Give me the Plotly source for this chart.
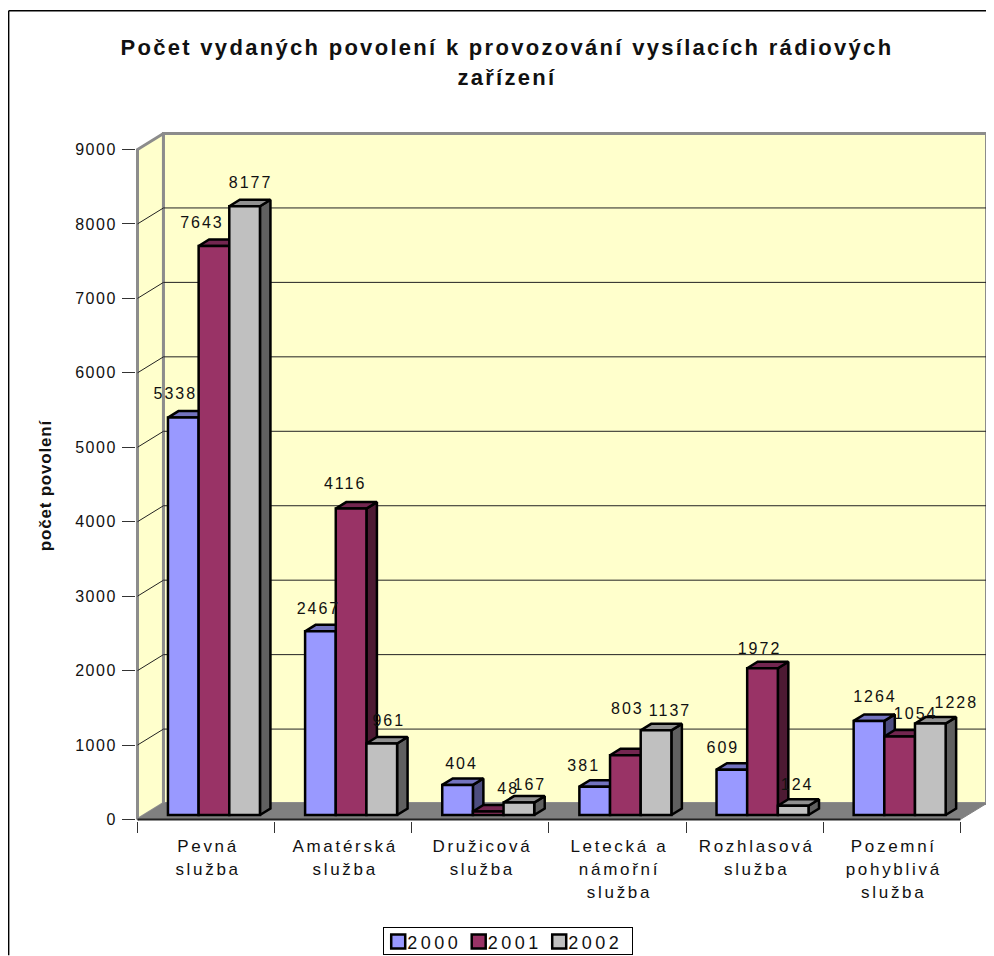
import plotly.graph_objects as go

# data
categories = [
    "Pevná<br>služba",
    "Amatérská<br>služba",
    "Družicová<br>služba",
    "Letecká a<br>námořní<br>služba",
    "Rozhlasová<br>služba",
    "Pozemní<br>pohyblivá<br>služba",
]
years = ["2000", "2001", "2002"]
values_2000 = [5338, 2467, 404, 381, 609, 1264]
values_2001 = [7643, 4116, 48, 803, 1972, 1054]
values_2002 = [8177, 961, 167, 1137, 124, 1228]
y_ticks = [0, 1000, 2000, 3000, 4000, 5000, 6000, 7000, 8000, 9000]

# hand placement of the value labels, pixels from the bar top
label_dx = [
    [-8, -2, 4, -11, -9, 6],
    [-12, -6, 20, 2, -3, 16],
    [6, 7, 11, 14, 4, 26],
]
label_dy = [
    [-23, -21, -20, -20, -21, -23],
    [-22, -24, -21, -45, -18, -22],
    [-22, -22, -17, -18, -20, -20],
]

front_colors = ["#9999FF", "#993366", "#C0C0C0"]
top_colors = ["#7373BF", "#732650", "#909090"]
side_colors = ["#4D4D80", "#4D1A33", "#606060"]
WALL = "#FFFFCC"
WALL_EDGE = "#8C8C8C"
FLOOR = "#808080"

# scales of the plot area, PAD keeps the wall borders from being clipped
PX_PER_CAT = 137.3
PX_PER_UNIT = 671 / 9000
PAD = 1.5
PLOT_W = 850 + 2 * PAD
PLOT_H = 687 + 2 * PAD
FIG_W = 986
FIG_H = 948
M_L = 129 - PAD
M_T = 125 - PAD

WALL_DX = 26 / PX_PER_CAT
WALL_DY = 16 / PX_PER_UNIT
BAR_W = 30.7 / PX_PER_CAT
BAR_SHIFT = 7.9 / PX_PER_CAT
BAR_BASE = 4.5 / PX_PER_UNIT
BAR_DX = 10.5 / PX_PER_CAT
BAR_DY = 6.5 / PX_PER_UNIT

X0 = -0.5
X1 = X0 + 850 / PX_PER_CAT
XF = 5.5
Y1 = 9000 + WALL_DY
x_range = [X0 - PAD / PX_PER_CAT, X1 + PAD / PX_PER_CAT]
y_range = [-PAD / PX_PER_UNIT, Y1 + PAD / PX_PER_UNIT]
series = [values_2000, values_2001, values_2002]
centers = list(range(len(categories)))


def paper_x(px):
    return (px - 8 - M_L) / PLOT_W


def paper_y(py):
    return 1 - (py - 8 - M_T) / PLOT_H


def poly(xs, ys, fill, line="black", width=2.5):
    # the line of a filled scatter does not close by itself
    return go.Scatter(
        x=xs + xs[:1], y=ys + ys[:1], mode="lines", fill="toself", fillcolor=fill,
        line=dict(color=line, width=width), hoverinfo="skip",
        showlegend=False, cliponaxis=False,
    )


fig = go.Figure()

# walls and floor
fig.add_trace(poly([X0, X0 + WALL_DX, X0 + WALL_DX, X0], [0, WALL_DY, Y1, 9000], WALL, WALL_EDGE, 3))
fig.add_trace(poly([X0 + WALL_DX, X1, X1, X0 + WALL_DX], [WALL_DY, WALL_DY, Y1, Y1], WALL, WALL_EDGE, 3))
fig.add_trace(poly([X0, X0 + WALL_DX, X1, XF], [0, WALL_DY, WALL_DY, 0], FLOOR, FLOOR, 1))

# gridlines follow the left wall, then the back wall
for v in y_ticks[1:-1]:
    fig.add_trace(go.Scatter(
        x=[X0, X0 + WALL_DX], y=[v, v + WALL_DY], mode="lines",
        line=dict(color="#222222", width=1), hoverinfo="skip", showlegend=False,
    ))
    fig.add_trace(go.Scatter(
        x=[X0 + WALL_DX, X1], y=[v + WALL_DY, v + WALL_DY], mode="lines",
        line=dict(color="#222222", width=1), hoverinfo="skip", showlegend=False,
    ))

# front edge of the floor
fig.add_trace(go.Scatter(
    x=[X0, XF], y=[0, 0], mode="lines", line=dict(color="#222222", width=2),
    hoverinfo="skip", showlegend=False, cliponaxis=False,
))


def bar_left(i, c):
    return c + BAR_SHIFT + (i - 1.5) * BAR_W


# side and top faces, back to front
for c in centers:
    for i, vals in enumerate(series):
        left = bar_left(i, c)
        right = left + BAR_W
        top = BAR_BASE + vals[c]
        fig.add_trace(poly(
            [right, right + BAR_DX, right + BAR_DX, right],
            [BAR_BASE, BAR_BASE + BAR_DY, top + BAR_DY, top],
            side_colors[i],
        ))
        fig.add_trace(poly(
            [left, right, right + BAR_DX, left + BAR_DX],
            [top, top, top + BAR_DY, top + BAR_DY],
            top_colors[i],
        ))

# front faces on an overlaying pair of axes so they cover the faces above
for i, vals in enumerate(series):
    fig.add_trace(go.Bar(
        x=[c + BAR_SHIFT for c in centers], y=vals, base=BAR_BASE, name=years[i],
        marker=dict(color=front_colors[i], line=dict(color="black", width=2.5)),
        xaxis="x2", yaxis="y2",
    ))

# value labels go on top of everything
lab_x, lab_y, lab_t = [], [], []
for i, vals in enumerate(series):
    for c, v in zip(centers, vals):
        lab_x.append(bar_left(i, c) + BAR_W / 2 + label_dx[i][c] / PX_PER_CAT)
        lab_y.append(BAR_BASE + v - label_dy[i][c] / PX_PER_UNIT)
        lab_t.append(str(v))
fig.add_trace(go.Scatter(
    x=lab_x, y=lab_y, text=lab_t, mode="text", textposition="middle center",
    textfont=dict(family="Liberation Sans", size=16, color="#111111"),
    hoverinfo="skip", showlegend=False, cliponaxis=False, xaxis="x2", yaxis="y2",
))

tick_font = dict(family="Liberation Sans", size=16, color="#111111")

fig.update_layout(
    width=FIG_W,
    height=FIG_H,
    margin=dict(l=M_L, r=FIG_W - M_L - PLOT_W, t=M_T, b=FIG_H - M_T - PLOT_H, autoexpand=False),
    paper_bgcolor="white",
    plot_bgcolor="white",
    barmode="group",
    bargap=1 - 3 * BAR_W,
    bargroupgap=0,
    title=dict(
        text="Počet vydaných povolení k provozování vysílacích rádiových<br>zařízení",
        font=dict(family="Liberation Sans", size=22, color="#111111", weight="bold"),
        x=503 / 994, xanchor="center", y=1 - 46.5 / FIG_H, yanchor="top",
    ),
    xaxis=dict(
        range=x_range, tickvals=[c - 0.5 for c in centers] + [XF], ticktext=[""] * 7,
        ticks="outside", ticklen=11, tickcolor="#333333", showgrid=False,
        zeroline=False, showline=False,
    ),
    yaxis=dict(
        range=y_range, tickvals=y_ticks, ticks="outside", ticklen=13,
        tickcolor="#333333", showgrid=False, zeroline=False, showline=False,
        tickfont=tick_font, ticklabelstandoff=2,
    ),
    xaxis2=dict(
        range=x_range, overlaying="x", anchor="y2",
        tickvals=[c + 2 / PX_PER_CAT for c in centers],
        ticktext=categories, ticks="outside", ticklen=10,
        tickcolor="rgba(0,0,0,0)", showgrid=False, zeroline=False,
        showline=False, tickfont=dict(family="Liberation Sans", size=17, color="#111111"),
    ),
    yaxis2=dict(range=y_range, overlaying="y", anchor="x2", visible=False),
    legend=dict(
        orientation="h", x=paper_x(383), y=paper_y(928), xanchor="left", yanchor="top",
        bordercolor="black", borderwidth=1, bgcolor="white",
        font=dict(family="Liberation Sans", size=18, color="#111111"),
        itemclick=False, itemdoubleclick=False,
    ),
    annotations=[dict(
        text="počet povolení", xref="paper", yref="paper",
        x=paper_x(45), y=paper_y(485), xanchor="center", yanchor="middle",
        textangle=-90, showarrow=False,
        font=dict(family="Liberation Sans", size=17, color="#111111", weight="bold"),
    )],
    shapes=[
        dict(type="line", xref="paper", yref="paper", x0=paper_x(8), x1=paper_x(994),
             y0=paper_y(10), y1=paper_y(10), line=dict(color="black", width=1.5)),
        dict(type="line", xref="paper", yref="paper", x0=paper_x(8), x1=paper_x(8),
             y0=paper_y(10), y1=paper_y(956), line=dict(color="black", width=1.5)),
    ],
)

# plotly has no letter spacing setting, the original chart text is spaced out
post = """
var gd = document.getElementById('{plot_id}');
document.documentElement.style.overflow = 'hidden';
function spaced(sel, s) {
  gd.querySelectorAll(sel).forEach(function (t) { t.style.letterSpacing = s; });
}
spaced('.gtitle', '2.3px');
spaced('.xtick text, .x2tick text', '2.7px');
spaced('.ytick text', '1.5px');
spaced('.textpoint text', '2px');
spaced('.legendtext', '3.5px');
spaced('.annotation-text', '0.8px');
function pitch(sel, px) {
  gd.querySelectorAll(sel).forEach(function (t) {
    t.querySelectorAll('tspan.line').forEach(function (l, n) { l.setAttribute('dy', (n * px) + 'px'); });
  });
}
pitch('.xtick text, .x2tick text', 23);
pitch('.gtitle', 30);
gd.querySelectorAll('.legend .traces').forEach(function (t, k) {
  var y = parseFloat(t.getAttribute('transform').split(',')[1]) - 5;
  t.setAttribute('transform', 'translate(' + (80.5 * k) + ',' + y + ')');
  t.querySelector('.legendtext').setAttribute('x', 24);
  var p = t.querySelector('.legendpoints path');
  p.setAttribute('d', 'M7,7H-7V-7H7Z');
  p.setAttribute('transform', 'translate(15,0)');
});
gd.querySelector('.legend .bg').setAttribute('width', 249);
gd.querySelector('.legend .bg').setAttribute('height', 27);
"""

fig.write_html("out.html", post_script=post)
